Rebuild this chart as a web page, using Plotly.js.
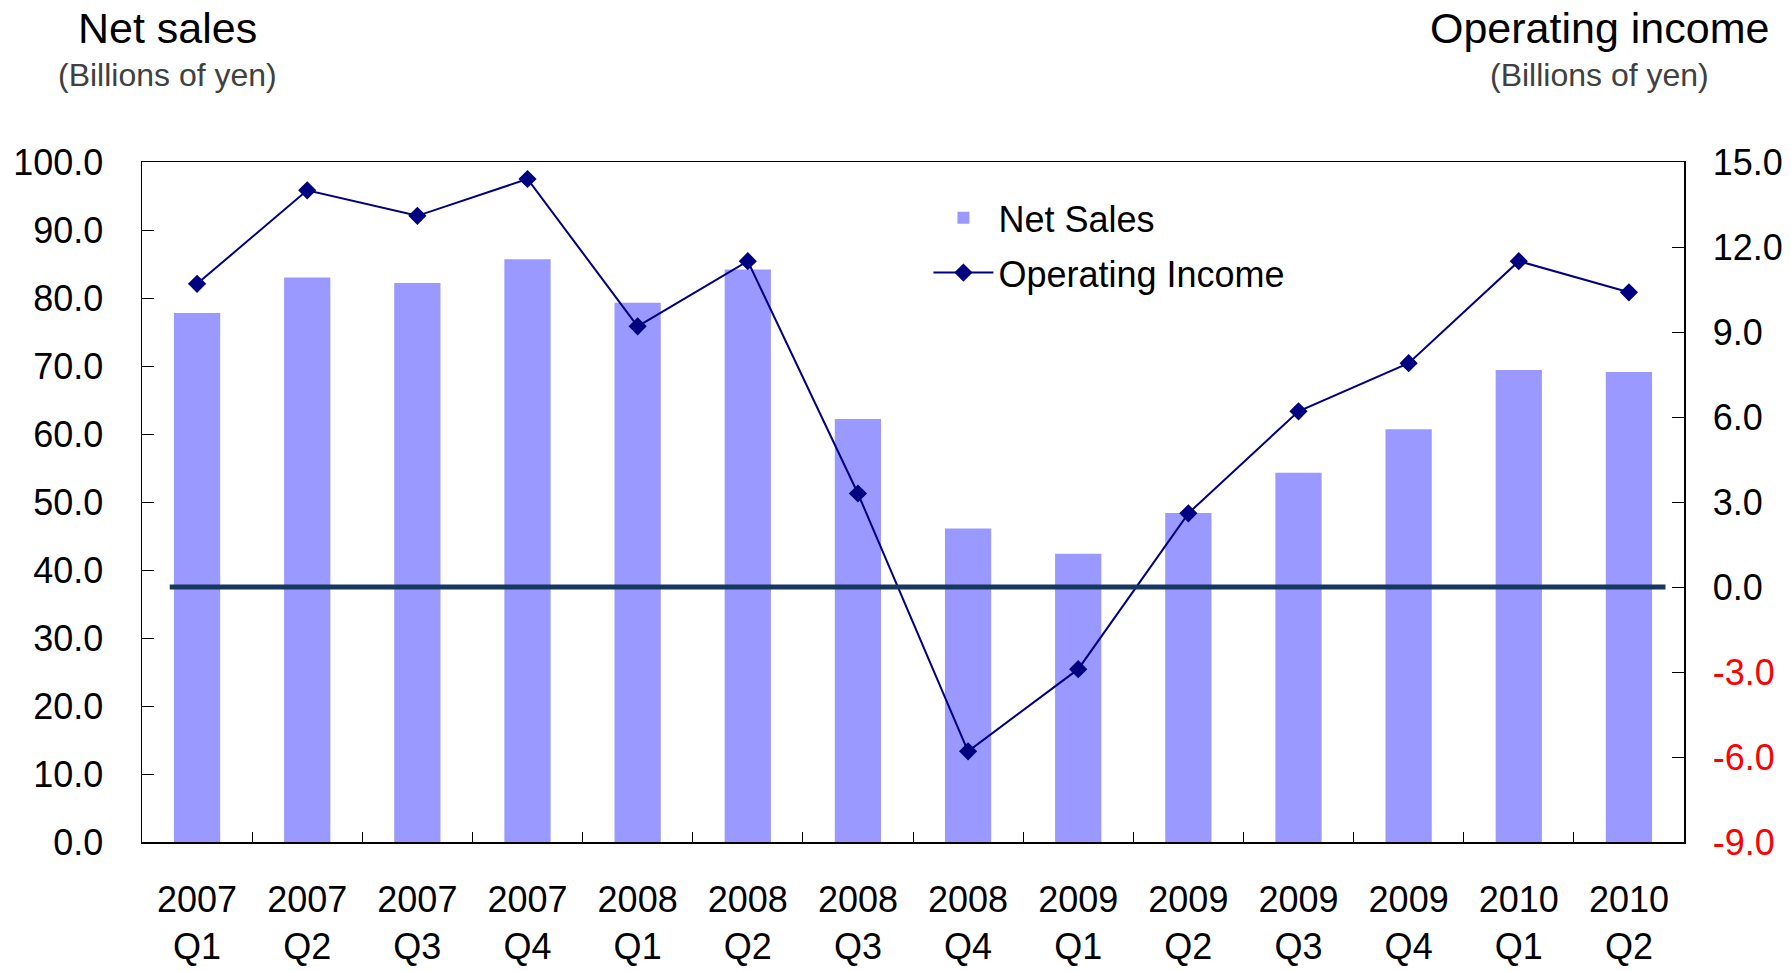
<!DOCTYPE html>
<html>
<head>
<meta charset="utf-8">
<script src="https://cdn.plot.ly/plotly-3.0.1.min.js"></script>
<style>
  html, body { margin: 0; padding: 0; background: #fff; }
  #chart { width: 1791px; height: 971px; }
</style>
</head>
<body>
<div id="chart"></div>
<script>
// quarters shown on the category axis
var years = ['2007','2007','2007','2007','2008','2008','2008','2008','2009','2009','2009','2009','2010','2010']
var quarters = ['Q1','Q2','Q3','Q4','Q1','Q2','Q3','Q4','Q1','Q2','Q3','Q4','Q1','Q2']

// billions of yen
var net_sales = [77.8, 83.0, 82.2, 85.7, 79.3, 84.2, 62.2, 46.1, 42.4, 48.4, 54.3, 60.7, 69.4, 69.1]
var operating_income = [10.7, 14.0, 13.1, 14.4, 9.2, 11.5, 3.3, -5.8, -2.9, 2.6, 6.2, 7.9, 11.5, 10.4]

var left_ticks = [0, 10, 20, 30, 40, 50, 60, 70, 80, 90, 100]
var right_ticks = [-9, -6, -3, 0, 3, 6, 9, 12, 15]

var labels = years.map(function (y, i) { return y + '<br>' + quarters[i] })

var right_text = right_ticks.map(function (v) {
  var s = v.toFixed(1)
  return v < 0 ? '<span style="color:#ff0000">' + s + '</span>' : s
})

var font = 'Liberation Sans, Arial, sans-serif'

var bars = {
  x: labels,
  y: net_sales,
  name: 'Net Sales',
  type: 'bar',
  width: 0.42,
  marker: {color: '#9999ff'},
  legendgroup: 'a',
  yaxis: 'y'
}

var income = {
  x: labels,
  y: operating_income,
  name: 'Operating Income',
  type: 'scatter',
  mode: 'lines+markers',
  line: {color: '#000080', width: 2},
  marker: {symbol: 'diamond', size: 14, color: '#000080'},
  legendgroup: 'b',
  yaxis: 'y2'
}

var layout = {
  width: 1791,
  height: 971,
  margin: {l: 142, r: 107, t: 162, b: 129},
  paper_bgcolor: '#ffffff',
  plot_bgcolor: '#ffffff',
  font: {family: font, size: 36, color: '#000'},
  showlegend: true,
  legend: {
    x: 0.51, y: 0.962, xanchor: 'left', yanchor: 'top',
    bgcolor: 'rgba(0,0,0,0)',
    traceorder: 'grouped',
    tracegroupgap: 5,
    font: {family: font, size: 36, color: '#000'},
    itemwidth: 60
  },
  xaxis: {
    type: 'category',
    range: [-0.5, 13.5],
    showline: true, linecolor: '#000', linewidth: 1.5, mirror: true,
    ticks: 'inside', ticklen: 10, tickcolor: '#000', tickson: 'boundaries',
    ticklabelstandoff: 25,
    showgrid: false,
    tickfont: {family: font, size: 36, color: '#000'}
  },
  yaxis: {
    range: [0, 100],
    tickvals: left_ticks,
    tickformat: '.1f',
    showline: true, linecolor: '#000', linewidth: 1.5,
    ticks: 'inside', ticklen: 12, tickcolor: '#000',
    ticklabelstandoff: 30,
    showgrid: false, zeroline: false,
    tickfont: {family: font, size: 36, color: '#000'}
  },
  yaxis2: {
    overlaying: 'y',
    side: 'right',
    range: [-9, 15],
    tickvals: right_ticks,
    ticktext: right_text,
    showline: true, linecolor: '#000', linewidth: 1.5,
    ticks: 'inside', ticklen: 12, tickcolor: '#000',
    ticklabelstandoff: 20,
    showgrid: false, zeroline: false,
    tickfont: {family: font, size: 36, color: '#000'}
  },
  shapes: [
    {
      type: 'line',
      xref: 'paper', yref: 'y2',
      x0: 0.018, x1: 0.988, y0: 0, y1: 0,
      line: {color: '#17375e', width: 5}
    }
  ],
  annotations: [
    {text: 'Net sales', xref: 'paper', yref: 'paper', x: 0.0165, y: 1.197,
     xanchor: 'center', yanchor: 'middle', showarrow: false,
     font: {family: font, size: 43, color: '#000'}},
    {text: '(Billions of yen)', xref: 'paper', yref: 'paper', x: 0.0165, y: 1.128,
     xanchor: 'center', yanchor: 'middle', showarrow: false,
     font: {family: font, size: 32, color: '#404040'}},
    {text: 'Operating income', xref: 'paper', yref: 'paper', x: 0.945, y: 1.197,
     xanchor: 'center', yanchor: 'middle', showarrow: false,
     font: {family: font, size: 43, color: '#000'}},
    {text: '(Billions of yen)', xref: 'paper', yref: 'paper', x: 0.945, y: 1.128,
     xanchor: 'center', yanchor: 'middle', showarrow: false,
     font: {family: font, size: 32, color: '#404040'}}
  ]
}

Plotly.newPlot('chart', [bars, income], layout, {displayModeBar: false, staticPlot: true})
</script>
</body>
</html>
